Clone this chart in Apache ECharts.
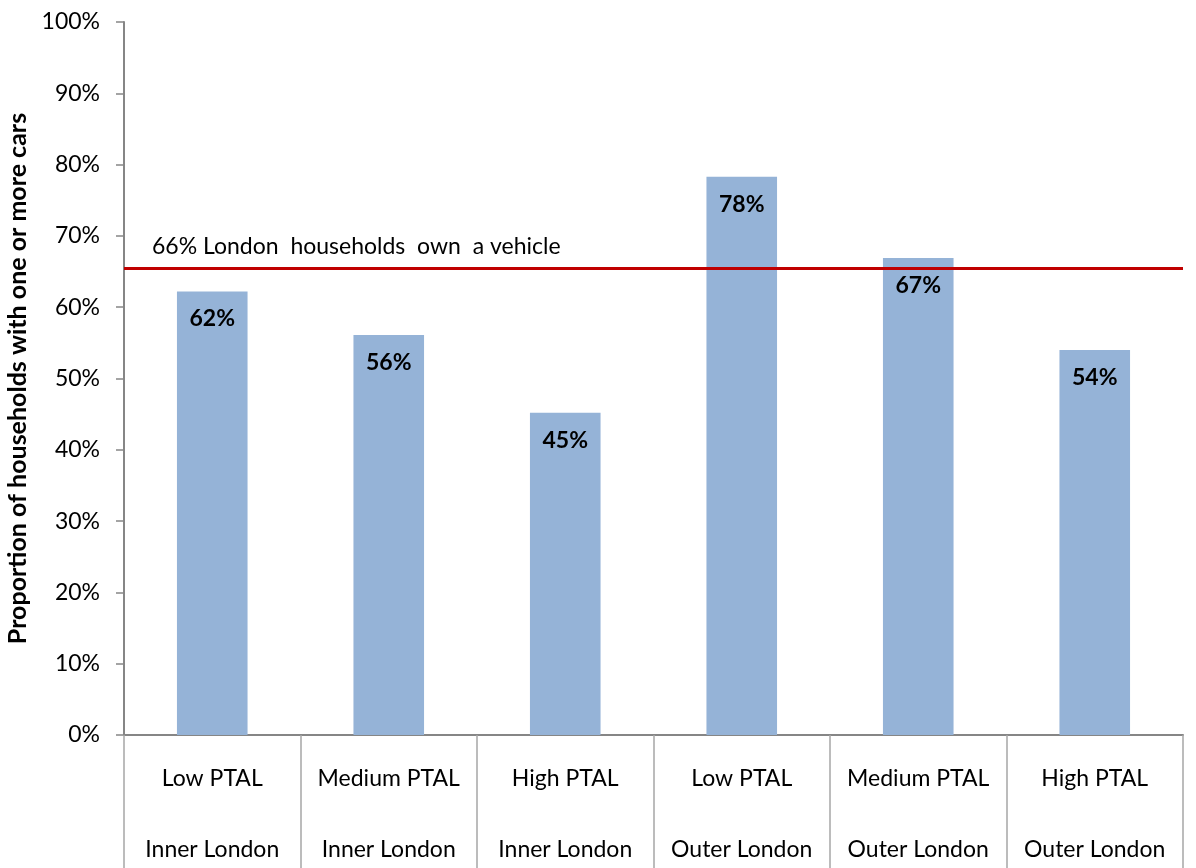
<!DOCTYPE html>
<html>
<head>
<meta charset="utf-8">
<script src="https://cdn.jsdelivr.net/npm/echarts@6/dist/echarts.min.js"></script>
<style>
  html, body { margin: 0; padding: 0; background: #fff; }
  #chart { width: 1196px; height: 868px; }
</style>
</head>
<body>
<div id="chart"></div>
<script>
const ptal = ['Low PTAL', 'Medium PTAL', 'High PTAL', 'Low PTAL', 'Medium PTAL', 'High PTAL']
const area = ['Inner London', 'Inner London', 'Inner London', 'Outer London', 'Outer London', 'Outer London']
const carShare = [62.2, 56.1, 45.2, 78.3, 66.9, 54.0]
const londonAvg = 65.4
const londonAvgText = '66% London  households  own  a vehicle'

const categories = ptal.map((p, i) => p + '\n' + area[i])
const font = 'Lato, "Open Sans", sans-serif'

const myChart = echarts.init(document.getElementById('chart'))
myChart.setOption({
  animation: false,
  textStyle: { fontFamily: font },
  grid: { left: 124, right: 13, top: 22, bottom: 133, outerBoundsMode: 'none', containLabel: false },
  xAxis: {
    type: 'category',
    data: categories,
    axisLine: { lineStyle: { color: '#868686', width: 2 } },
    axisTick: {
      show: true,
      interval: 0,
      length: 133,
      lineStyle: { color: '#a6a6a6', width: 1.5 }
    },
    axisLabel: {
      interval: 0,
      margin: 8,
      color: '#000',
      fontSize: 23,
      fontFamily: font,
      lineHeight: 71
    }
  },
  yAxis: {
    type: 'value',
    min: 0,
    max: 100,
    interval: 10,
    name: 'Proportion of households with one or more cars',
    nameLocation: 'middle',
    nameGap: 91,
    nameTextStyle: { color: '#000', fontSize: 25, fontWeight: 'bold', fontFamily: font },
    axisLine: { show: true, lineStyle: { color: '#868686', width: 2 } },
    axisTick: { show: true, length: 8, lineStyle: { color: '#868686', width: 1.5 } },
    splitLine: { show: false },
    axisLabel: {
      formatter: '{value}%',
      color: '#000',
      fontSize: 23,
      fontFamily: font,
      margin: 24
    }
  },
  series: [
    {
      type: 'bar',
      data: carShare,
      barWidth: '40%',
      itemStyle: { color: '#95b3d7' },
      label: {
        show: true,
        position: 'insideTop',
        distance: 16,
        color: '#000',
        fontSize: 23,
        fontWeight: 'bold',
        fontFamily: font,
        formatter: p => Math.round(p.value) + '%'
      },
      markLine: {
        silent: true,
        symbol: 'none',
        lineStyle: { color: '#c00000', width: 3, type: 'solid' },
        label: {
          show: true,
          position: 'insideStartTop',
          formatter: londonAvgText,
          color: '#000',
          fontSize: 23,
          fontFamily: font,
          distance: [28, 11]
        },
        data: [{ yAxis: londonAvg }]
      }
    }
  ]
})
</script>
</body>
</html>
